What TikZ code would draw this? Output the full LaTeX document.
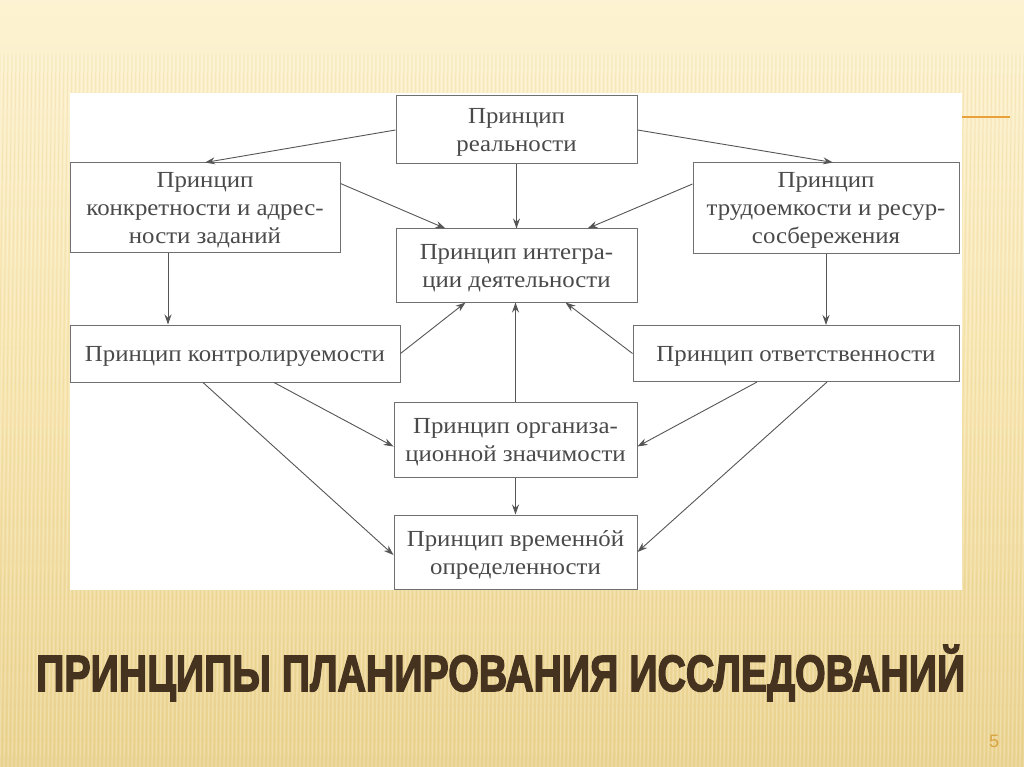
\documentclass[tikz,border=0pt]{standalone}
\usepackage{fontspec}
\usepackage{graphicx}
\setmainfont{Liberation Serif}
\newfontfamily\boxfont[FakeStretch=1.08]{Liberation Serif}
\newfontfamily\titlefont{Liberation Sans}
\usetikzlibrary{arrows.meta}
\definecolor{bgtop}{HTML}{FDF3D2}
\definecolor{bgmid}{HTML}{F8E6B0}
\definecolor{bgbot}{HTML}{EBD390}
\definecolor{stripedark}{HTML}{D9BE78}
\definecolor{boxline}{HTML}{707070}
\definecolor{txt}{HTML}{4A4A4A}
\definecolor{arrcol}{HTML}{555555}
\definecolor{titlecol}{HTML}{45321F}
\definecolor{accent}{HTML}{E9A23B}
\definecolor{numcol}{HTML}{D9A441}
\newsavebox\titlebox
\newcommand\pdflit[1]{\special{pdf:literal direct #1}}
\tikzset{
  box/.style={draw=boxline, line width=1pt, fill=white, align=center, inner sep=0pt,
    text=txt, text depth=0pt, font={\boxfont\fontsize{23}{28}\selectfont}},
  arr/.style={draw=arrcol, line width=0.9pt, -{Stealth[length=10pt,width=7pt]}},
  stripelight/.style={draw=white, opacity=0.22, line width=1.2pt},
  stripedk/.style={draw=stripedark, opacity=0.18, line width=1pt}
}
\begin{document}
\begin{tikzpicture}[x=1pt,y=-1pt]
\useasboundingbox (0,0) rectangle (1024,767);
% background
\shade[top color=bgtop, bottom color=bgbot, middle color=bgmid] (0,0) rectangle (1024,767);
\foreach \x in {-40,-36,...,1040} {
  \draw[stripelight] (\x+10,55) -- (\x,767);
  \draw[stripedk] (\x+12,55) -- (\x+2,767);
}
% white panel
\fill[white] (70,93) rectangle (962,590);
% orange accent line
\draw[draw=accent, line width=2pt] (962,117) -- (1010,117);

% boxes
\node[box, minimum width=241pt, minimum height=68pt] (real) at (516.5,130) {Принцип\\реальности};
\node[box, minimum width=270pt, minimum height=89pt] (konk) at (205,207.5) {Принцип\\конкретности и адрес-\\ности заданий};
\node[box, minimum width=241pt, minimum height=73pt] (integ) at (516.5,265.5) {Принцип интегра-\\ции деятельности};
\node[box, minimum width=266pt, minimum height=90pt] (trud) at (826,208) {Принцип\\трудоемкости и ресур-\\сосбережения};
\node[box, minimum width=330pt, minimum height=57pt] (kontr) at (235,353.5) {Принцип контролируемости};
\node[box, minimum width=326pt, minimum height=56pt] (otv) at (796,353.5) {Принцип ответственности};
\node[box, minimum width=243pt, minimum height=75pt] (org) at (515.5,439.5) {Принцип организа-\\ционной значимости};
\node[box, minimum width=243pt, minimum height=74pt] (vrem) at (515.5,552) {Принцип временнóй\\определенности};

% helper coordinates
\coordinate (k1) at ([xshift=-37pt]konk.south);

% connectors
\draw[arr] (real.west) -- (konk.north);
\draw[arr] (real.east) -- ([xshift=7pt]trud.north);
\draw[arr] (real.south) -- (integ.north);
\draw[arr] ([yshift=24pt]konk.east) -- ([xshift=-71pt]integ.north);
\draw[arr] ([yshift=24pt]trud.west) -- ([xshift=71pt]integ.north);
\draw[arr] (k1) -- (k1 |- kontr.north);
\draw[arr] (trud.south) -- (trud.south |- otv.north);
\draw[arr] (kontr.east) -- ([xshift=-51pt]integ.south);
\draw[arr] (otv.west) -- ([xshift=49pt]integ.south);
\draw[arr] (org.north) -- (org.north |- integ.south);
\draw[arr] ([xshift=-32pt]kontr.south) -- ([yshift=-3pt]vrem.west);
\draw[arr] ([xshift=39pt]kontr.south) -- ([yshift=-7pt]org.west);
\draw[arr] ([xshift=-39pt]otv.south) -- ([yshift=-7pt]org.east);
\draw[arr] ([xshift=31pt]otv.south) -- (vrem.east);
\draw[arr] (org.south) -- (vrem.north);

% page number
\node[anchor=base, inner sep=0pt, text=numcol, font={\titlefont\fontsize{18}{18}\selectfont}] (num) at (994,747) {5};
% title
\node[anchor=base west, inner sep=0pt, text=titlecol] (title) at (36,691)
  {\sbox\titlebox{\titlefont\bfseries\fontsize{51}{51}\selectfont ПРИНЦИПЫ ПЛАНИРОВАНИЯ ИССЛЕДОВАНИЙ}%
   \resizebox{929pt}{\ht\titlebox}{%
     \pdflit{2 Tr 1.6 w 0.27 0.2 0.12 RG}\usebox\titlebox\pdflit{0 Tr 1 w}}};
\end{tikzpicture}
\end{document}
